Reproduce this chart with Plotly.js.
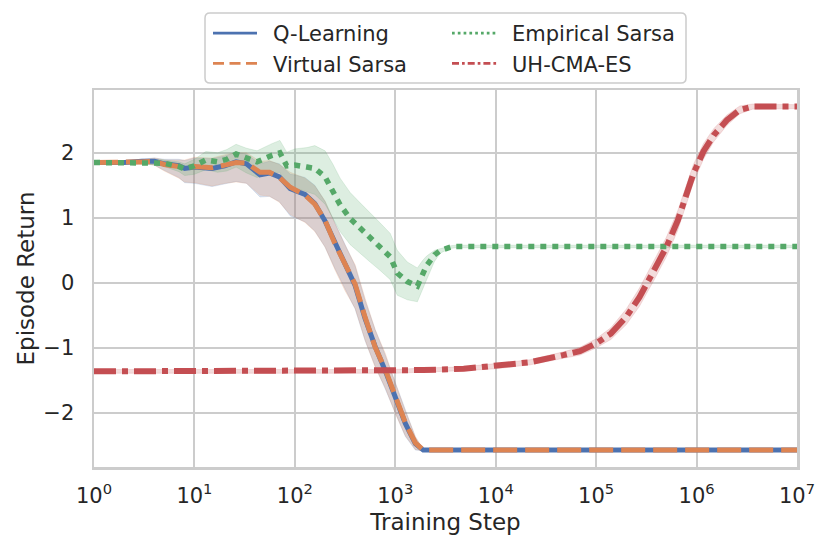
<!DOCTYPE html>
<html>
<head>
<meta charset="utf-8">
<script src="https://cdn.plot.ly/plotly-3.0.1.min.js"></script>
<style>
  html, body { margin: 0; padding: 0; background: #fff; }
  #chart { width: 831px; height: 551px; }
</style>
</head>
<body>
<div id="chart"></div>
<script>
// Q-Learning: mean, band below (lo) and band above (hi)
var qSteps = [1, 2, 3, 4, 5, 7, 8, 10, 15, 20, 26, 33, 45, 56, 70, 90, 100, 126, 158, 200, 251, 316, 398, 501, 631, 794, 1000, 1259, 1585, 1900, 2500, 10000, 100000, 1000000, 10000000];
var qMean  = [1.85, 1.85, 1.87, 1.87, 1.83, 1.80, 1.76, 1.78, 1.76, 1.80, 1.86, 1.83, 1.66, 1.69, 1.63, 1.45, 1.42, 1.36, 1.22, 0.95, 0.62, 0.28, -0.04, -0.55, -0.98, -1.35, -1.75, -2.16, -2.47, -2.57, -2.57, -2.57, -2.57, -2.57, -2.57];
var qLo    = [0.01, 0.02, 0.03, 0.06, 0.10, 0.18, 0.22, 0.25, 0.28, 0.28, 0.30, 0.30, 0.34, 0.36, 0.38, 0.42, 0.42, 0.42, 0.42, 0.40, 0.40, 0.38, 0.36, 0.34, 0.30, 0.28, 0.25, 0.20, 0.10, 0.01, 0.0, 0.0, 0.0, 0.0, 0.0];
var qHi    = [0.01, 0.02, 0.03, 0.05, 0.07, 0.10, 0.12, 0.14, 0.15, 0.15, 0.15, 0.15, 0.17, 0.18, 0.20, 0.22, 0.24, 0.26, 0.28, 0.30, 0.30, 0.30, 0.30, 0.28, 0.26, 0.24, 0.22, 0.18, 0.10, 0.01, 0.0, 0.0, 0.0, 0.0, 0.0];

// Virtual Sarsa
var vSteps = [1, 2, 3, 4, 5, 7, 8, 10, 15, 20, 26, 33, 45, 56, 70, 90, 100, 126, 158, 200, 251, 316, 398, 501, 631, 794, 1000, 1259, 1585, 1900, 2500, 10000, 100000, 1000000, 10000000];
var vMean  = [1.85, 1.85, 1.86, 1.87, 1.82, 1.79, 1.77, 1.79, 1.77, 1.81, 1.85, 1.84, 1.70, 1.70, 1.62, 1.47, 1.43, 1.35, 1.21, 0.96, 0.60, 0.27, -0.02, -0.53, -0.99, -1.33, -1.76, -2.15, -2.46, -2.57, -2.57, -2.57, -2.57, -2.57, -2.57];
var vLo    = [0.01, 0.02, 0.03, 0.06, 0.10, 0.18, 0.22, 0.25, 0.28, 0.28, 0.30, 0.31, 0.35, 0.37, 0.38, 0.42, 0.42, 0.42, 0.42, 0.41, 0.40, 0.39, 0.37, 0.35, 0.31, 0.28, 0.25, 0.20, 0.10, 0.01, 0.0, 0.0, 0.0, 0.0, 0.0];
var vHi    = [0.01, 0.02, 0.03, 0.05, 0.07, 0.10, 0.12, 0.14, 0.15, 0.16, 0.15, 0.16, 0.17, 0.18, 0.20, 0.23, 0.24, 0.26, 0.28, 0.30, 0.31, 0.31, 0.30, 0.29, 0.27, 0.25, 0.22, 0.18, 0.10, 0.01, 0.0, 0.0, 0.0, 0.0, 0.0];

// Empirical Sarsa
var eSteps = [1, 2, 3, 4, 5, 7, 8, 10, 13, 17, 21, 26, 33, 42, 59, 71, 83, 100, 132, 158, 200, 240, 282, 355, 447, 562, 708, 891, 1047, 1318, 1660, 1862, 2042, 2455, 2818, 3548, 4000, 10000, 100000, 1000000, 10000000];
var eMean  = [1.85, 1.85, 1.86, 1.86, 1.84, 1.79, 1.75, 1.80, 1.89, 1.86, 1.90, 1.98, 1.91, 1.86, 1.96, 2.00, 1.80, 1.81, 1.78, 1.76, 1.63, 1.40, 1.20, 0.99, 0.84, 0.70, 0.55, 0.40, 0.15, 0.02, -0.05, 0.12, 0.26, 0.43, 0.50, 0.55, 0.56, 0.56, 0.56, 0.56, 0.56];
var eLo    = [0.01, 0.02, 0.03, 0.04, 0.05, 0.08, 0.10, 0.13, 0.15, 0.16, 0.18, 0.20, 0.22, 0.24, 0.27, 0.30, 0.32, 0.35, 0.38, 0.40, 0.42, 0.42, 0.41, 0.40, 0.39, 0.38, 0.36, 0.35, 0.34, 0.28, 0.24, 0.24, 0.22, 0.10, 0.04, 0.02, 0.02, 0.02, 0.02, 0.02, 0.02];
var eHi    = [0.01, 0.02, 0.03, 0.04, 0.05, 0.07, 0.08, 0.10, 0.13, 0.14, 0.15, 0.15, 0.16, 0.17, 0.18, 0.19, 0.21, 0.25, 0.30, 0.35, 0.40, 0.42, 0.41, 0.40, 0.39, 0.38, 0.37, 0.36, 0.35, 0.30, 0.28, 0.22, 0.15, 0.07, 0.03, 0.02, 0.02, 0.02, 0.02, 0.02, 0.02];

// UH-CMA-ES
var uSteps = [1, 10, 100, 1000, 1900, 4800, 10000, 22000, 47000, 69000, 100000, 140000, 200000, 270000, 370000, 500000, 650000, 780000, 930000, 1170000, 1480000, 2000000, 2700000, 3600000, 10000000];
var uMean  = [-1.36, -1.36, -1.36, -1.36, -1.34, -1.32, -1.28, -1.22, -1.11, -1.05, -0.93, -0.78, -0.52, -0.22, 0.17, 0.55, 0.96, 1.32, 1.68, 2.02, 2.27, 2.50, 2.66, 2.71, 2.71];
var uLo    = [0.03, 0.03, 0.03, 0.03, 0.03, 0.03, 0.04, 0.04, 0.05, 0.06, 0.07, 0.09, 0.12, 0.14, 0.15, 0.15, 0.15, 0.15, 0.14, 0.12, 0.10, 0.08, 0.06, 0.04, 0.03];
var uHi    = [0.03, 0.03, 0.03, 0.03, 0.03, 0.03, 0.04, 0.04, 0.05, 0.06, 0.07, 0.09, 0.12, 0.14, 0.15, 0.15, 0.15, 0.15, 0.14, 0.12, 0.10, 0.08, 0.06, 0.04, 0.03];

var xTickVals = [1, 10, 100, 1000, 10000, 100000, 1000000, 10000000];
var xTickText = ['10<sup>0</sup>', '10<sup>1</sup>', '10<sup>2</sup>', '10<sup>3</sup>', '10<sup>4</sup>', '10<sup>5</sup>', '10<sup>6</sup>', '10<sup>7</sup>'];

// legend samples are thinner than the plotted lines, and the dash lists end in a gap
// so that each sample is about 44px long
var series = [
    {name: 'Q-Learning', x: qSteps, y: qMean, lo: qLo, hi: qHi, color: '#4c72b0', band: 'rgba(76,114,176,0.2)',
     dash: 'solid', width: 5, legend: 'legend', legDash: '44px,40px'},
    {name: 'Virtual Sarsa', x: vSteps, y: vMean, lo: vLo, hi: vHi, color: '#dd8452', band: 'rgba(221,132,82,0.2)',
     dash: '24px,8px', width: 5, legend: 'legend', legDash: '11px,5.5px,11px,5.5px,11px,40px'},
    {name: 'Empirical Sarsa', x: eSteps, y: eMean, lo: eLo, hi: eHi, color: '#55a868', band: 'rgba(85,168,104,0.2)',
     dash: '6px,6px', width: 5.5, legend: 'legend2', legDash: '2.7px,3.1px,2.7px,3.1px,2.7px,3.1px,2.7px,3.1px,2.7px,3.1px,2.7px,3.1px,2.7px,3.1px,2.7px,40px'},
    {name: 'UH-CMA-ES', x: uSteps, y: uMean, lo: uLo, hi: uHi, color: '#c44e52', band: 'rgba(196,78,82,0.2)',
     dash: '22px,6px,6px,6px', width: 6, legend: 'legend2', legDash: '7px,3px,2.7px,3px,7px,3px,2.7px,3px,7px,3px,2.7px,40px'}
];

var data = [];
// bands first
for (let s of series) {
    var lo = s.y.map((v, i) => v - s.lo[i]);
    var hi = s.y.map((v, i) => v + s.hi[i]);
    data.push({x: s.x, y: lo, type: 'scatter', mode: 'lines', line: {width: 0.8, color: s.band},
               showlegend: false, hoverinfo: 'skip'});
    data.push({x: s.x, y: hi, type: 'scatter', mode: 'lines', line: {width: 0.8, color: s.band},
               fill: 'tonexty', fillcolor: s.band, showlegend: false, hoverinfo: 'skip'});
}
for (let s of series) {
    data.push({x: s.x, y: s.y, name: s.name, type: 'scatter', mode: 'lines', showlegend: false,
               line: {color: s.color, width: s.width, dash: s.dash}});
}
// legend-only entries
for (let s of series) {
    data.push({x: [null], y: [null], name: s.name, type: 'scatter', mode: 'lines', legend: s.legend,
               legendgroup: s.name, line: {color: s.color, width: 2.7, dash: s.legDash}});
}

// legend frame (pixel box converted to paper coordinates)
var plotL = 94, plotT = 90, plotW = 703, plotH = 377;
function px(v) { return (v - plotL) / plotW; }
function py(v) { return (plotT + plotH - v) / plotH; }
var bx0 = px(205), bx1 = px(686), by0 = py(83), by1 = py(13);
var rx = 5 / plotW, ry = 5 / plotH;
var framePath = 'M' + (bx0 + rx) + ',' + by1 + ' L' + (bx1 - rx) + ',' + by1 +
    ' Q' + bx1 + ',' + by1 + ' ' + bx1 + ',' + (by1 - ry) + ' L' + bx1 + ',' + (by0 + ry) +
    ' Q' + bx1 + ',' + by0 + ' ' + (bx1 - rx) + ',' + by0 + ' L' + (bx0 + rx) + ',' + by0 +
    ' Q' + bx0 + ',' + by0 + ' ' + bx0 + ',' + (by0 + ry) + ' L' + bx0 + ',' + (by1 - ry) +
    ' Q' + bx0 + ',' + by1 + ' ' + (bx0 + rx) + ',' + by1 + ' Z';

var legendBase = {
    orientation: 'v', xanchor: 'left', yanchor: 'top', y: py(13),
    borderwidth: 0, bgcolor: 'rgba(0,0,0,0)', font: {size: 21, color: '#262626'},
    itemwidth: 55, tracegroupgap: 0, traceorder: 'grouped'
};

var layout = {
    width: 831,
    height: 551,
    margin: {l: 94, r: 34, t: 90, b: 84},
    paper_bgcolor: '#ffffff',
    plot_bgcolor: '#ffffff',
    font: {family: 'DejaVu Sans', size: 21, color: '#262626'},
    showlegend: true,
    legend: Object.assign({}, legendBase, {x: px(208)}),
    legend2: Object.assign({}, legendBase, {x: px(447)}),
    shapes: [{type: 'path', xref: 'paper', yref: 'paper', path: framePath,
              line: {color: '#cccccc', width: 1.5}, fillcolor: 'rgba(0,0,0,0)'}],
    xaxis: {
        type: 'log', range: [0, 7],
        tickvals: xTickVals, ticktext: xTickText,
        showgrid: true, gridcolor: '#cccccc', gridwidth: 2,
        showline: true, linecolor: '#cccccc', linewidth: 2.5, mirror: true,
        zeroline: false, ticks: '', ticklabelstandoff: 8,
        title: {text: 'Training Step', font: {size: 23}, standoff: 7}
    },
    yaxis: {
        range: [-2.83, 2.965], dtick: 1, tick0: 0,
        showgrid: true, gridcolor: '#cccccc', gridwidth: 2,
        showline: true, linecolor: '#cccccc', linewidth: 2.5, mirror: true,
        zeroline: false, ticks: '', ticklabelstandoff: 13,
        title: {text: 'Episode Return', font: {size: 23}, standoff: 3}
    }
};

Plotly.newPlot('chart', data, layout, {staticPlot: true});
</script>
</body>
</html>
